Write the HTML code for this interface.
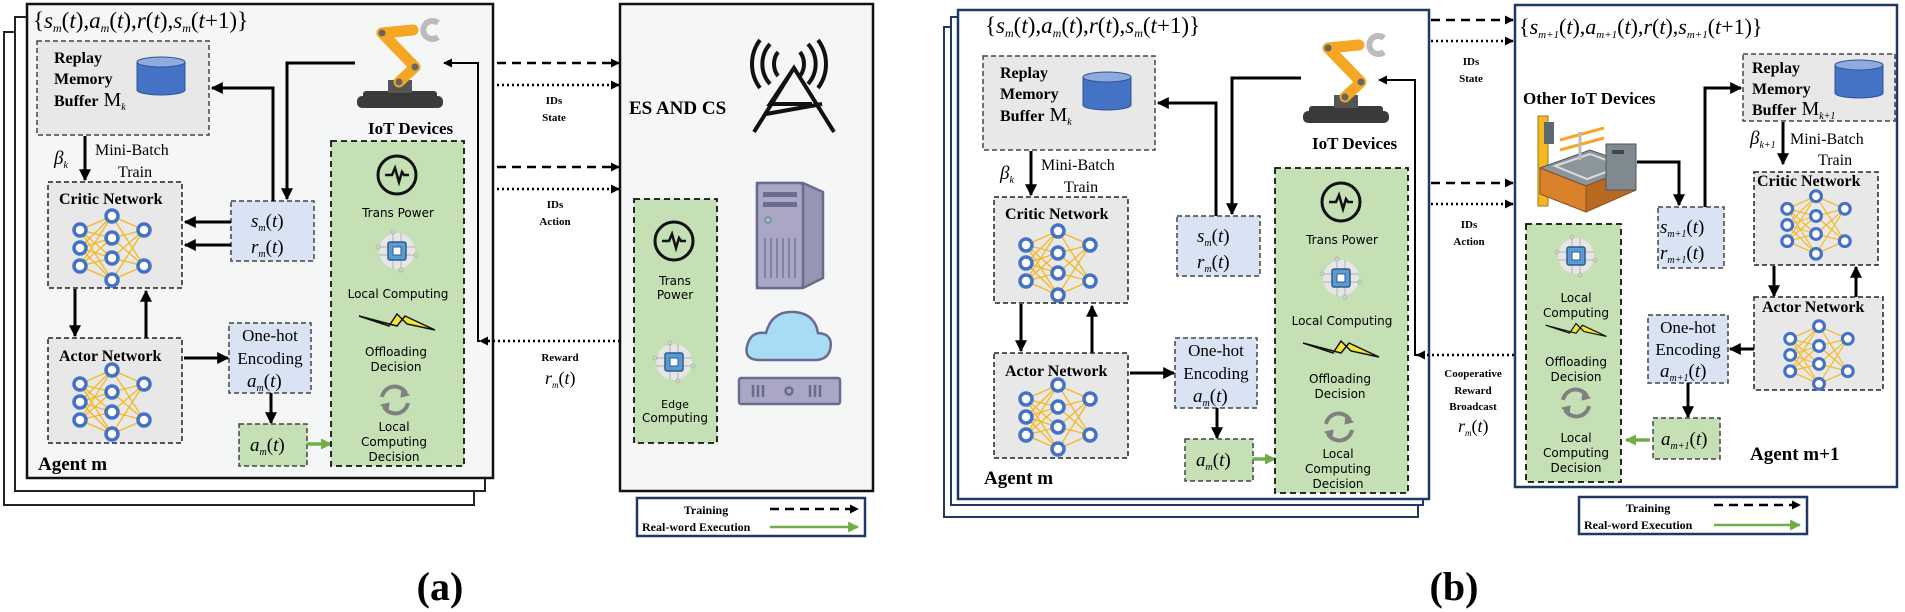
<!DOCTYPE html>
<html><head><meta charset="utf-8"><style>
html,body{margin:0;padding:0;background:#fff;}
svg{display:block;}
.b{font-family:"Liberation Serif",serif;font-weight:bold;}
.r{font-family:"Liberation Serif",serif;}
.m{font-family:"Liberation Serif",serif;font-style:italic;}
.s{font-family:"DejaVu Sans","Liberation Sans",sans-serif;}
</style></head><body>
<svg width="1905" height="612" viewBox="0 0 1905 612" xmlns="http://www.w3.org/2000/svg">
<defs>
<marker id="ah" viewBox="0 0 10 10" refX="9" refY="5" markerWidth="12" markerHeight="12" markerUnits="userSpaceOnUse" orient="auto"><path d="M0,0 L10,5 L0,10 z" fill="#000"/></marker>
<marker id="ahs" viewBox="0 0 10 10" refX="9" refY="5" markerWidth="9" markerHeight="9" markerUnits="userSpaceOnUse" orient="auto"><path d="M0,0 L10,5 L0,10 z" fill="#000"/></marker>
<marker id="ahg" viewBox="0 0 10 10" refX="9" refY="5" markerWidth="11" markerHeight="11" markerUnits="userSpaceOnUse" orient="auto"><path d="M0,0 L10,5 L0,10 z" fill="#70ad47"/></marker>
<g id="nn">
 <g stroke="#f5b820" stroke-width="1.3">
  <path d="M-32,-18 L0,-32 M-32,-18 L0,-10 M-32,-18 L0,10 M-32,-18 L0,32 M-32,0 L0,-32 M-32,0 L0,-10 M-32,0 L0,10 M-32,0 L0,32 M-32,18 L0,-32 M-32,18 L0,-10 M-32,18 L0,10 M-32,18 L0,32"/>
  <path d="M32,-18 L0,-32 M32,-18 L0,-10 M32,-18 L0,10 M32,-18 L0,32 M32,18 L0,-32 M32,18 L0,-10 M32,18 L0,10 M32,18 L0,32"/>
 </g>
 <g fill="#fff" stroke="#4472c4" stroke-width="3.5">
  <circle cx="-32" cy="-18" r="6"/><circle cx="-32" cy="0" r="6"/><circle cx="-32" cy="18" r="6"/>
  <circle cx="0" cy="-32" r="6"/><circle cx="0" cy="-10" r="6"/><circle cx="0" cy="10" r="6"/><circle cx="0" cy="32" r="6"/>
  <circle cx="32" cy="-18" r="6"/><circle cx="32" cy="18" r="6"/>
 </g>
</g>
<g id="tp"><circle r="19" fill="none" stroke="#111" stroke-width="3"/><path d="M-12,0 L-5,0 L-2,-7 L2,7 L5,-3 L7,0 L12,0" fill="none" stroke="#111" stroke-width="2.5"/></g>
<g id="chip"><circle r="18" fill="#e6e6e6"/><g stroke="#bbb" stroke-width="1.2" fill="none"><path d="M-9,-4 L-18,-4 M-9,4 L-18,4 M9,-4 L18,-4 M9,4 L18,4 M-4,-9 L-4,-18 M4,-9 L4,-18 M-4,9 L-4,18 M4,9 L4,18"/><circle cx="-19" cy="-4" r="2"/><circle cx="19" cy="4" r="2"/><circle cx="-4" cy="-19" r="2"/><circle cx="4" cy="19" r="2"/></g><rect x="-9" y="-9" width="18" height="18" rx="2" fill="#5b9bd5" stroke="#2e5c8a" stroke-width="1.5"/><rect x="-4" y="-4" width="8" height="8" fill="#fff" stroke="#2e5c8a"/></g>
<g id="bolt"><path d="M-38,-6 L-8,4 L0,-8 L10,2 L38,8 L8,-6 L0,4 Z" fill="#f2e43a" stroke="#111" stroke-width="1.5"/></g>
<g id="cyc" fill="none" stroke="#808080" stroke-width="4"><path d="M-13,-3 A13,13 0 0 1 11,-7"/><path d="M13,3 A13,13 0 0 1 -11,7"/><path d="M7,-11 L14,-5 L6,-3 Z M-7,11 L-14,5 L-6,3 Z" fill="#808080" stroke-width="1"/></g>
<g id="cyl"><rect x="0" y="5" width="48" height="28" fill="#4472c4" stroke="#2f5597"/><ellipse cx="24" cy="33" rx="24" ry="5" fill="#4472c4" stroke="#2f5597"/><rect x="1" y="5" width="46" height="27" fill="#4472c4"/><ellipse cx="24" cy="5" rx="24" ry="5" fill="#8faadc" stroke="#2f5597"/></g>
<g id="robot">
 <rect x="357" y="96" width="86" height="12" rx="5" fill="#3a3a3a"/>
 <rect x="363" y="91" width="74" height="8" rx="3" fill="#3a3a3a"/>
 <rect x="388" y="80" width="24" height="13" fill="#555"/>
 <path d="M382,33 L415,67 L399,82" fill="none" stroke="#f5a623" stroke-width="11" stroke-linecap="round" stroke-linejoin="round"/>
 <path d="M382,33 L413,30" fill="none" stroke="#f5a623" stroke-width="11" stroke-linecap="round"/>
 <circle cx="382" cy="33" r="3.5" fill="#666"/><circle cx="415" cy="67" r="3.5" fill="#666"/><circle cx="399" cy="82" r="3.5" fill="#666"/>
 <path d="M438,23 A9,9 0 1 0 438,37" fill="none" stroke="#bbb" stroke-width="6"/>
</g>
</defs>

<!-- ================= PANEL A ================= -->
<rect x="4" y="32" width="470" height="473" fill="#fff" stroke="#222" stroke-width="2"/>
<rect x="15" y="17" width="470" height="474" fill="#fff" stroke="#222" stroke-width="2"/>
<rect x="27" y="4" width="466" height="474" fill="#f5f6f6" stroke="#111" stroke-width="2.5"/>

<g id="coreA">
<text class="r" x="33" y="28" font-size="23">{<tspan class="m">s</tspan><tspan class="m" font-size="12" dy="4">m</tspan><tspan dy="-4">(</tspan><tspan class="m">t</tspan>),<tspan class="m">a</tspan><tspan class="m" font-size="12" dy="4">m</tspan><tspan dy="-4">(</tspan><tspan class="m">t</tspan>),<tspan class="m">r</tspan>(<tspan class="m">t</tspan>),<tspan class="m">s</tspan><tspan class="m" font-size="12" dy="4">m</tspan><tspan dy="-4">(</tspan><tspan class="m">t</tspan>+1)}</text>
<rect x="37" y="41" width="172" height="94" fill="#e8e8e8" stroke="#444" stroke-width="1.5" stroke-dasharray="5,3"/>
<text class="b" x="54" y="63" font-size="16">Replay</text>
<text class="b" x="54" y="84" font-size="16">Memory</text>
<text class="b" x="54" y="106" font-size="16">Buffer<tspan class="r" font-weight="normal" font-size="20"> M</tspan><tspan class="m" font-weight="normal" font-size="10" dy="4">k</tspan></text>
<use href="#cyl" x="137" y="57"/>
<line x1="85" y1="136" x2="85" y2="180" stroke="#000" stroke-width="3" marker-end="url(#ah)"/>
<text class="m" x="54" y="164" font-size="19">β<tspan font-size="10" dy="4">k</tspan></text>
<text class="r" x="95" y="155" font-size="16">Mini-Batch</text>
<text class="r" x="118" y="177" font-size="16">Train</text>
<rect x="48" y="182" width="134" height="106" fill="#e8e8e8" stroke="#222" stroke-width="1.5" stroke-dasharray="5,3"/>
<text class="b" x="59" y="204" font-size="16">Critic Network</text>
<use href="#nn" x="112" y="248"/>
<rect x="231" y="201" width="83" height="60" fill="#dae3f3" stroke="#444" stroke-width="1.5" stroke-dasharray="5,3"/>
<text class="r" x="251" y="227" font-size="19"><tspan class="m">s</tspan><tspan class="m" font-size="10" dy="4">m</tspan><tspan dy="-4">(</tspan><tspan class="m">t</tspan>)</text>
<text class="r" x="251" y="253" font-size="19"><tspan class="m">r</tspan><tspan class="m" font-size="10" dy="4">m</tspan><tspan dy="-4">(</tspan><tspan class="m">t</tspan>)</text>
<line x1="231" y1="222" x2="185" y2="222" stroke="#000" stroke-width="3" marker-end="url(#ah)"/>
<line x1="231" y1="245" x2="185" y2="245" stroke="#000" stroke-width="3" marker-end="url(#ah)"/>
<polyline points="273,201 273,88 212,88" fill="none" stroke="#000" stroke-width="3" marker-end="url(#ah)"/>
<polyline points="355,63 287,63 287,199" fill="none" stroke="#000" stroke-width="3" marker-end="url(#ah)"/>
<line x1="75" y1="289" x2="75" y2="336" stroke="#000" stroke-width="3" marker-end="url(#ah)"/>
<line x1="146" y1="338" x2="146" y2="291" stroke="#000" stroke-width="3" marker-end="url(#ah)"/>
<rect x="48" y="338" width="134" height="105" fill="#e8e8e8" stroke="#222" stroke-width="1.5" stroke-dasharray="5,3"/>
<text class="b" x="59" y="361" font-size="16">Actor Network</text>
<use href="#nn" x="112" y="402"/>
<rect x="229" y="323" width="82" height="70" fill="#dae3f3" stroke="#444" stroke-width="1.5" stroke-dasharray="5,3"/>
<text class="r" x="270" y="341" font-size="17" text-anchor="middle">One-hot</text>
<text class="r" x="270" y="364" font-size="17" text-anchor="middle">Encoding</text>
<text class="r" x="247" y="387" font-size="19"><tspan class="m">a</tspan><tspan class="m" font-size="10" dy="4">m</tspan><tspan dy="-4">(</tspan><tspan class="m">t</tspan>)</text>
<line x1="184" y1="358" x2="228" y2="358" stroke="#000" stroke-width="3" marker-end="url(#ah)"/>
<line x1="271" y1="393" x2="271" y2="423" stroke="#000" stroke-width="3" marker-end="url(#ah)"/>
<rect x="239" y="424" width="68" height="42" fill="#c5e0b4" stroke="#444" stroke-width="1.5" stroke-dasharray="5,3"/>
<text class="r" x="250" y="451" font-size="19"><tspan class="m">a</tspan><tspan class="m" font-size="10" dy="4">m</tspan><tspan dy="-4">(</tspan><tspan class="m">t</tspan>)</text>
<line x1="307" y1="444" x2="331" y2="444" stroke="#70ad47" stroke-width="3.5" marker-end="url(#ahg)"/>
<text class="b" x="38" y="470" font-size="19">Agent m</text>
<use href="#robot"/>
<text class="b" x="368" y="134" font-size="17">IoT Devices</text>
</g>

<g id="greenA">
<rect x="331" y="141" width="133" height="325" fill="#c5e0b4" stroke="#111" stroke-width="1.8" stroke-dasharray="6,4"/>
<use href="#tp" x="397" y="175"/>
<text class="s" x="398" y="217" font-size="12" text-anchor="middle">Trans Power</text>
<use href="#chip" x="397" y="251"/>
<text class="s" x="398" y="298" font-size="12" text-anchor="middle">Local Computing</text>
<use href="#bolt" x="397" y="322"/>
<text class="s" x="396" y="356" font-size="12" text-anchor="middle">Offloading</text>
<text class="s" x="396" y="371" font-size="12" text-anchor="middle">Decision</text>
<use href="#cyc" x="395" y="400"/>
<text class="s" x="394" y="431" font-size="12" text-anchor="middle">Local</text>
<text class="s" x="394" y="446" font-size="12" text-anchor="middle">Computing</text>
<text class="s" x="394" y="461" font-size="12" text-anchor="middle">Decision</text>
</g>

<!-- side arrows a -->
<polyline points="480,341 478,341 478,63 444,63" fill="none" stroke="#000" stroke-width="2" marker-end="url(#ahs)"/>
<line x1="620" y1="341" x2="480" y2="341" stroke="#000" stroke-width="2.5" stroke-dasharray="2,3" marker-end="url(#ahs)"/>
<text class="b" x="560" y="361" font-size="11" text-anchor="middle">Reward</text>
<text class="r" x="545" y="384" font-size="18"><tspan class="m">r</tspan><tspan class="m" font-size="9" dy="4">m</tspan><tspan dy="-4">(</tspan><tspan class="m">t</tspan>)</text>
<line x1="497" y1="63" x2="619" y2="63" stroke="#000" stroke-width="2.5" stroke-dasharray="9,6" marker-end="url(#ahs)"/>
<line x1="497" y1="85" x2="619" y2="85" stroke="#000" stroke-width="2.5" stroke-dasharray="2,3" marker-end="url(#ahs)"/>
<text class="b" x="554" y="104" font-size="11" text-anchor="middle">IDs</text>
<text class="b" x="554" y="121" font-size="11" text-anchor="middle">State</text>
<line x1="497" y1="167" x2="619" y2="167" stroke="#000" stroke-width="2.5" stroke-dasharray="9,6" marker-end="url(#ahs)"/>
<line x1="497" y1="189" x2="619" y2="189" stroke="#000" stroke-width="2.5" stroke-dasharray="2,3" marker-end="url(#ahs)"/>
<text class="b" x="555" y="208" font-size="11" text-anchor="middle">IDs</text>
<text class="b" x="555" y="225" font-size="11" text-anchor="middle">Action</text>

<!-- ES AND CS -->
<rect x="620" y="4" width="253" height="487" fill="#f5f6f6" stroke="#111" stroke-width="2.5"/>
<text class="b" x="629" y="114" font-size="19">ES AND CS</text>
<g stroke="#111" stroke-width="4" fill="none">
 <path d="M754,132 L794,68 L834,132 M794,68 L770,104 L812,104 M766,114 L822,104"/>
 <path d="M770,44 A30,30 0 0 0 770,84"/><path d="M760,40 A40,40 0 0 0 760,88"/>
 <path d="M808,44 A30,30 0 0 1 808,84"/><path d="M818,40 A40,40 0 0 1 818,88"/>
 <path d="M778,52 A20,20 0 0 0 778,76"/><path d="M800,52 A20,20 0 0 1 800,76"/>
</g>
<g>
 <path d="M757,183 L803,183 L823,192 L823,278 L803,288 L757,288 Z" fill="#9895b3" stroke="#6d6a90" stroke-width="2.5"/>
 <rect x="757" y="183" width="46" height="105" rx="3" fill="#a9a7c4" stroke="#6d6a90" stroke-width="2.5"/>
 <rect x="763" y="192" width="34" height="5" fill="#6d6a90"/><rect x="763" y="202" width="34" height="5" fill="#6d6a90"/>
 <circle cx="768" cy="220" r="3" fill="#8ed1b5" stroke="#6d6a90"/>
 <path d="M765,238 V278 M771,238 V278 M777,238 V278 M783,238 V278 M789,238 V278 M795,238 V278" stroke="#8481a8" stroke-width="2"/>
</g>
<g>
 <path d="M760,360 Q742,360 748,343 Q752,331 766,333 Q772,310 795,312 Q815,314 818,333 Q834,334 830,350 Q827,360 815,360 Z" fill="#a8dcf5" stroke="#6d6a90" stroke-width="2.5"/>
 <rect x="739" y="378" width="101" height="26" rx="2" fill="#a9a7c4" stroke="#6d6a90" stroke-width="2.5"/>
 <path d="M753,385 V397 M758,385 V397 M763,385 V397 M810,385 V397 M815,385 V397 M820,385 V397" stroke="#6d6a90" stroke-width="2.5"/>
 <circle cx="789" cy="391" r="3.5" fill="none" stroke="#6d6a90" stroke-width="2.5"/>
</g>
<rect x="634" y="199" width="83" height="244" fill="#c5e0b4" stroke="#111" stroke-width="1.8" stroke-dasharray="6,4"/>
<use href="#tp" x="674" y="241"/>
<text class="s" x="675" y="285" font-size="12" text-anchor="middle">Trans</text>
<text class="s" x="675" y="299" font-size="12" text-anchor="middle">Power</text>
<use href="#chip" x="674" y="362"/>
<text class="s" x="675" y="408" font-size="11" text-anchor="middle">Edge</text>
<text class="s" x="675" y="422" font-size="12" text-anchor="middle">Computing</text>
<!-- legend a -->
<rect x="637" y="498" width="228" height="38" fill="#fff" stroke="#1f3864" stroke-width="2.5"/>
<text class="b" x="706" y="514" font-size="12" text-anchor="middle">Training</text>
<line x1="770" y1="509" x2="858" y2="509" stroke="#000" stroke-width="2.5" stroke-dasharray="9,6" marker-end="url(#ahs)"/>
<text class="b" x="642" y="531" font-size="12">Real-word Execution</text>
<line x1="770" y1="527" x2="858" y2="527" stroke="#70ad47" stroke-width="2.5" marker-end="url(#ahg)"/>
<text class="b" x="440" y="600" font-size="40" text-anchor="middle">(a)</text>

<!-- ================= PANEL B ================= -->
<rect x="944" y="27" width="474" height="490" fill="#fff" stroke="#1f3864" stroke-width="2"/>
<rect x="951" y="17" width="472" height="488" fill="#fff" stroke="#1f3864" stroke-width="2"/>
<rect x="958" y="10" width="471" height="489" fill="#fff" stroke="#1f3864" stroke-width="2.5"/>
<g transform="translate(946,15)">
<text class="r" x="39" y="18" font-size="23">{<tspan class="m">s</tspan><tspan class="m" font-size="12" dy="4">m</tspan><tspan dy="-4">(</tspan><tspan class="m">t</tspan>),<tspan class="m">a</tspan><tspan class="m" font-size="12" dy="4">m</tspan><tspan dy="-4">(</tspan><tspan class="m">t</tspan>),<tspan class="m">r</tspan>(<tspan class="m">t</tspan>),<tspan class="m">s</tspan><tspan class="m" font-size="12" dy="4">m</tspan><tspan dy="-4">(</tspan><tspan class="m">t</tspan>+1)}</text>
<rect x="37" y="41" width="172" height="94" fill="#e8e8e8" stroke="#444" stroke-width="1.5" stroke-dasharray="5,3"/>
<text class="b" x="54" y="63" font-size="16">Replay</text>
<text class="b" x="54" y="84" font-size="16">Memory</text>
<text class="b" x="54" y="106" font-size="16">Buffer<tspan class="r" font-weight="normal" font-size="20"> M</tspan><tspan class="m" font-weight="normal" font-size="10" dy="4">k</tspan></text>
<use href="#cyl" x="137" y="57"/>
<line x1="85" y1="136" x2="85" y2="180" stroke="#000" stroke-width="3" marker-end="url(#ah)"/>
<text class="m" x="54" y="164" font-size="19">β<tspan font-size="10" dy="4">k</tspan></text>
<text class="r" x="95" y="155" font-size="16">Mini-Batch</text>
<text class="r" x="118" y="177" font-size="16">Train</text>
<rect x="48" y="182" width="134" height="106" fill="#e8e8e8" stroke="#222" stroke-width="1.5" stroke-dasharray="5,3"/>
<text class="b" x="59" y="204" font-size="16">Critic Network</text>
<use href="#nn" x="112" y="248"/>
<rect x="231" y="201" width="83" height="60" fill="#dae3f3" stroke="#444" stroke-width="1.5" stroke-dasharray="5,3"/>
<text class="r" x="251" y="227" font-size="19"><tspan class="m">s</tspan><tspan class="m" font-size="10" dy="4">m</tspan><tspan dy="-4">(</tspan><tspan class="m">t</tspan>)</text>
<text class="r" x="251" y="253" font-size="19"><tspan class="m">r</tspan><tspan class="m" font-size="10" dy="4">m</tspan><tspan dy="-4">(</tspan><tspan class="m">t</tspan>)</text>
<polyline points="270,201 270,88 212,88" fill="none" stroke="#000" stroke-width="3" marker-end="url(#ah)"/>
<polyline points="355,63 286,63 286,199" fill="none" stroke="#000" stroke-width="3" marker-end="url(#ah)"/>
<line x1="75" y1="289" x2="75" y2="336" stroke="#000" stroke-width="3" marker-end="url(#ah)"/>
<line x1="146" y1="338" x2="146" y2="291" stroke="#000" stroke-width="3" marker-end="url(#ah)"/>
<rect x="48" y="338" width="134" height="105" fill="#e8e8e8" stroke="#222" stroke-width="1.5" stroke-dasharray="5,3"/>
<text class="b" x="59" y="361" font-size="16">Actor Network</text>
<use href="#nn" x="112" y="402"/>
<rect x="229" y="323" width="82" height="70" fill="#dae3f3" stroke="#444" stroke-width="1.5" stroke-dasharray="5,3"/>
<text class="r" x="270" y="341" font-size="17" text-anchor="middle">One-hot</text>
<text class="r" x="270" y="364" font-size="17" text-anchor="middle">Encoding</text>
<text class="r" x="247" y="387" font-size="19"><tspan class="m">a</tspan><tspan class="m" font-size="10" dy="4">m</tspan><tspan dy="-4">(</tspan><tspan class="m">t</tspan>)</text>
<line x1="184" y1="358" x2="228" y2="358" stroke="#000" stroke-width="3" marker-end="url(#ah)"/>
<line x1="271" y1="393" x2="271" y2="423" stroke="#000" stroke-width="3" marker-end="url(#ah)"/>
<rect x="239" y="424" width="68" height="42" fill="#c5e0b4" stroke="#444" stroke-width="1.5" stroke-dasharray="5,3"/>
<text class="r" x="250" y="451" font-size="19"><tspan class="m">a</tspan><tspan class="m" font-size="10" dy="4">m</tspan><tspan dy="-4">(</tspan><tspan class="m">t</tspan>)</text>
<line x1="307" y1="444" x2="329" y2="444" stroke="#70ad47" stroke-width="3.5" marker-end="url(#ahg)"/>
<text class="b" x="38" y="469" font-size="19">Agent m</text>
<use href="#robot"/>
<text class="b" x="366" y="134" font-size="17">IoT Devices</text>
</g>
<g transform="translate(944,27)">
<rect x="331" y="141" width="133" height="325" fill="#c5e0b4" stroke="#111" stroke-width="1.8" stroke-dasharray="6,4"/>
<use href="#tp" x="397" y="175"/>
<text class="s" x="398" y="217" font-size="12" text-anchor="middle">Trans Power</text>
<use href="#chip" x="397" y="251"/>
<text class="s" x="398" y="298" font-size="12" text-anchor="middle">Local Computing</text>
<use href="#bolt" x="397" y="322"/>
<text class="s" x="396" y="356" font-size="12" text-anchor="middle">Offloading</text>
<text class="s" x="396" y="371" font-size="12" text-anchor="middle">Decision</text>
<use href="#cyc" x="395" y="400"/>
<text class="s" x="394" y="431" font-size="12" text-anchor="middle">Local</text>
<text class="s" x="394" y="446" font-size="12" text-anchor="middle">Computing</text>
<text class="s" x="394" y="461" font-size="12" text-anchor="middle">Decision</text>
</g>

<!-- middle arrows b -->
<polyline points="1417,355 1415,355 1415,80 1379,80" fill="none" stroke="#000" stroke-width="2" marker-end="url(#ahs)"/>
<line x1="1514" y1="355" x2="1417" y2="355" stroke="#000" stroke-width="2.5" stroke-dasharray="2,3" marker-end="url(#ahs)"/>
<text class="b" x="1473" y="377" font-size="11" text-anchor="middle">Cooperative</text>
<text class="b" x="1473" y="394" font-size="11" text-anchor="middle">Reward</text>
<text class="b" x="1473" y="410" font-size="11" text-anchor="middle">Broadcast</text>
<text class="r" x="1458" y="432" font-size="18"><tspan class="m">r</tspan><tspan class="m" font-size="9" dy="4">m</tspan><tspan dy="-4">(</tspan><tspan class="m">t</tspan>)</text>
<line x1="1431" y1="20" x2="1513" y2="20" stroke="#000" stroke-width="2.5" stroke-dasharray="9,6" marker-end="url(#ahs)"/>
<line x1="1431" y1="41" x2="1513" y2="41" stroke="#000" stroke-width="2.5" stroke-dasharray="2,3" marker-end="url(#ahs)"/>
<text class="b" x="1471" y="65" font-size="11" text-anchor="middle">IDs</text>
<text class="b" x="1471" y="82" font-size="11" text-anchor="middle">State</text>
<line x1="1431" y1="183" x2="1513" y2="183" stroke="#000" stroke-width="2.5" stroke-dasharray="9,6" marker-end="url(#ahs)"/>
<line x1="1431" y1="204" x2="1513" y2="204" stroke="#000" stroke-width="2.5" stroke-dasharray="2,3" marker-end="url(#ahs)"/>
<text class="b" x="1469" y="228" font-size="11" text-anchor="middle">IDs</text>
<text class="b" x="1469" y="245" font-size="11" text-anchor="middle">Action</text>

<!-- Agent m+1 -->
<rect x="1515" y="5" width="382" height="482" fill="#fff" stroke="#1f3864" stroke-width="2.5"/>
<text class="r" x="1519" y="34" font-size="22">{<tspan class="m">s</tspan><tspan class="m" font-size="11" dy="4">m+1</tspan><tspan dy="-4">(</tspan><tspan class="m">t</tspan>),<tspan class="m">a</tspan><tspan class="m" font-size="11" dy="4">m+1</tspan><tspan dy="-4">(</tspan><tspan class="m">t</tspan>),<tspan class="m">r</tspan>(<tspan class="m">t</tspan>),<tspan class="m">s</tspan><tspan class="m" font-size="11" dy="4">m+1</tspan><tspan dy="-4">(</tspan><tspan class="m">t</tspan>+1)}</text>
<text class="b" x="1523" y="104" font-size="17">Other  IoT Devices</text>
<!-- machine -->
<g>
 <rect x="1538" y="116" width="10" height="90" fill="#f5b820" stroke="#9a7a20"/>
 <rect x="1544" y="122" width="10" height="22" fill="#5b6a70"/>
 <path d="M1540,168 L1590,150 L1636,166 L1586,186 Z" fill="#8a969c" stroke="#555"/>
 <path d="M1540,168 L1586,186 L1586,212 L1540,194 Z" fill="#d9822b" stroke="#8a5020"/>
 <path d="M1586,186 L1636,166 L1636,190 L1586,212 Z" fill="#b86a22" stroke="#8a5020"/>
 <path d="M1555,166 L1590,154 L1622,166 L1587,179 Z" fill="none" stroke="#ddd" stroke-width="2"/>
 <path d="M1560,140 L1604,128 M1560,150 L1604,138" stroke="#f5a623" stroke-width="3"/>
 <path d="M1580,132 L1580,160" stroke="#bbb" stroke-width="3"/>
 <rect x="1606" y="144" width="30" height="46" fill="#7f8a90" stroke="#555"/>
 <rect x="1612" y="150" width="12" height="4" fill="#444"/>
</g>
<polyline points="1637,162 1679,162 1679,205" fill="none" stroke="#000" stroke-width="3" marker-end="url(#ah)"/>
<rect x="1658" y="207" width="66" height="61" fill="#dae3f3" stroke="#444" stroke-width="1.5" stroke-dasharray="5,3"/>
<text class="r" x="1660" y="233" font-size="19"><tspan class="m">s</tspan><tspan class="m" font-size="10" dy="4">m+1</tspan><tspan dy="-4">(</tspan><tspan class="m">t</tspan>)</text>
<text class="r" x="1660" y="259" font-size="19"><tspan class="m">r</tspan><tspan class="m" font-size="10" dy="4">m+1</tspan><tspan dy="-4">(</tspan><tspan class="m">t</tspan>)</text>
<polyline points="1705,207 1705,88 1741,88" fill="none" stroke="#000" stroke-width="3" marker-end="url(#ah)"/>
<rect x="1743" y="54" width="152" height="67" fill="#e8e8e8" stroke="#444" stroke-width="1.5" stroke-dasharray="5,3"/>
<text class="b" x="1752" y="73" font-size="16">Replay</text>
<text class="b" x="1752" y="94" font-size="16">Memory</text>
<text class="b" x="1752" y="115" font-size="16">Buffer<tspan class="r" font-weight="normal" font-size="20"> M</tspan><tspan class="m" font-weight="normal" font-size="10" dy="4">k+1</tspan></text>
<use href="#cyl" x="1835" y="60"/>
<line x1="1783" y1="122" x2="1783" y2="164" stroke="#000" stroke-width="3" marker-end="url(#ah)"/>
<text class="m" x="1750" y="144" font-size="19">β<tspan font-size="10" dy="4">k+1</tspan></text>
<text class="r" x="1790" y="144" font-size="16">Mini-Batch</text>
<text class="r" x="1818" y="165" font-size="16">Train</text>
<rect x="1754" y="172" width="124" height="93" fill="#e8e8e8" stroke="#222" stroke-width="1.5" stroke-dasharray="5,3"/>
<text class="b" x="1757" y="186" font-size="16">Critic Network</text>
<use href="#nn" x="1816" y="225" transform="translate(1816,225) scale(0.9) translate(-1816,-225)"/>
<line x1="1774" y1="266" x2="1774" y2="296" stroke="#000" stroke-width="3" marker-end="url(#ah)"/>
<line x1="1856" y1="297" x2="1856" y2="267" stroke="#000" stroke-width="3" marker-end="url(#ah)"/>
<rect x="1754" y="297" width="129" height="93" fill="#e8e8e8" stroke="#222" stroke-width="1.5" stroke-dasharray="5,3"/>
<text class="b" x="1762" y="312" font-size="16">Actor Network</text>
<use href="#nn" x="1819" y="355" transform="translate(1819,355) scale(0.9) translate(-1819,-355)"/>
<rect x="1648" y="315" width="80" height="68" fill="#dae3f3" stroke="#444" stroke-width="1.5" stroke-dasharray="5,3"/>
<text class="r" x="1688" y="333" font-size="17" text-anchor="middle">One-hot</text>
<text class="r" x="1688" y="355" font-size="17" text-anchor="middle">Encoding</text>
<text class="r" x="1660" y="377" font-size="19"><tspan class="m">a</tspan><tspan class="m" font-size="10" dy="4">m+1</tspan><tspan dy="-4">(</tspan><tspan class="m">t</tspan>)</text>
<line x1="1754" y1="349" x2="1730" y2="349" stroke="#000" stroke-width="3" marker-end="url(#ah)"/>
<line x1="1688" y1="383" x2="1688" y2="417" stroke="#000" stroke-width="3" marker-end="url(#ah)"/>
<rect x="1653" y="418" width="67" height="41" fill="#c5e0b4" stroke="#444" stroke-width="1.5" stroke-dasharray="5,3"/>
<text class="r" x="1661" y="445" font-size="19"><tspan class="m">a</tspan><tspan class="m" font-size="10" dy="4">m+1</tspan><tspan dy="-4">(</tspan><tspan class="m">t</tspan>)</text>
<line x1="1650" y1="440" x2="1626" y2="440" stroke="#70ad47" stroke-width="3.5" marker-end="url(#ahg)"/>
<text class="b" x="1750" y="460" font-size="19">Agent m+1</text>
<rect x="1526" y="224" width="95" height="258" fill="#c5e0b4" stroke="#111" stroke-width="1.8" stroke-dasharray="6,4"/>
<use href="#chip" x="1576" y="256"/>
<text class="s" x="1576" y="302" font-size="12" text-anchor="middle">Local</text>
<text class="s" x="1576" y="317" font-size="12" text-anchor="middle">Computing</text>
<use href="#bolt" x="1576" y="330" transform="translate(1576,330) scale(0.8) translate(-1576,-330)"/>
<text class="s" x="1576" y="366" font-size="12" text-anchor="middle">Offloading</text>
<text class="s" x="1576" y="381" font-size="12" text-anchor="middle">Decision</text>
<use href="#cyc" x="1576" y="403"/>
<text class="s" x="1576" y="442" font-size="12" text-anchor="middle">Local</text>
<text class="s" x="1576" y="457" font-size="12" text-anchor="middle">Computing</text>
<text class="s" x="1576" y="472" font-size="12" text-anchor="middle">Decision</text>
<!-- legend b -->
<rect x="1579" y="497" width="228" height="37" fill="#fff" stroke="#1f3864" stroke-width="2.5"/>
<text class="b" x="1648" y="512" font-size="12" text-anchor="middle">Training</text>
<line x1="1714" y1="505" x2="1800" y2="505" stroke="#000" stroke-width="2.5" stroke-dasharray="9,6" marker-end="url(#ahs)"/>
<text class="b" x="1584" y="529" font-size="12">Real-word Execution</text>
<line x1="1714" y1="525" x2="1800" y2="525" stroke="#70ad47" stroke-width="2.5" marker-end="url(#ahg)"/>
<text class="b" x="1454" y="600" font-size="40" text-anchor="middle">(b)</text>
</svg>
</body></html>
